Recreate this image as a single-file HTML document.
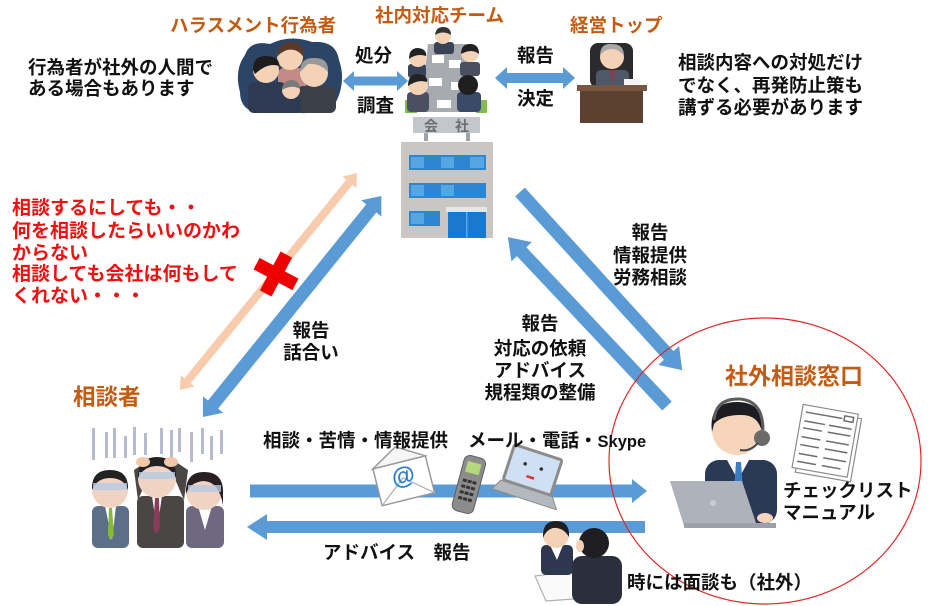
<!DOCTYPE html>
<html><head><meta charset="utf-8"><style>
html,body{margin:0;padding:0;background:#fff;}
svg{display:block;}
text{font-family:"Liberation Sans","Noto Sans CJK JP",sans-serif;font-weight:700;}
.t{font-size:18.5px;fill:#111;}
.o{fill:#c55a11;}
.r{font-size:19px;fill:#ee1111;}
</style></head><body>
<svg width="930" height="606" viewBox="0 0 930 606" xmlns="http://www.w3.org/2000/svg">
<rect width="930" height="606" fill="#fff"/>

<!-- ===== arrows ===== -->
<g transform="translate(180,390) rotate(-50.8)">
<polygon fill="#f8cbad" points="0,0 12,-9 12,-4 268,-4 268,-9 280,0 268,9 268,4 12,4 12,9"/>
</g>
<g transform="translate(203,417) rotate(-51.1)">
<polygon fill="#5b9bd5" points="0,0 16,-13 16,-6.5 268,-6.5 268,-13 284,0 268,13 268,6.5 16,6.5 16,13"/>
</g>
<g transform="translate(520,192) rotate(47.7)">
<polygon fill="#5b9bd5" points="0,-6.5 221,-6.5 221,-14 241,0 221,14 221,6.5 0,6.5"/>
</g>
<g transform="translate(667,406) rotate(-133.3)">
<polygon fill="#5b9bd5" points="0,-6.5 212,-6.5 212,-14 232,0 212,14 212,6.5 0,6.5"/>
</g>
<g transform="translate(343,81)">
<polygon fill="#5b9bd5" points="0,0 11,-10 11,-4.5 54,-4.5 54,-10 65,0 54,10 54,4.5 11,4.5 11,10"/>
</g>
<g transform="translate(495,78)">
<polygon fill="#5b9bd5" points="0,0 12,-11 12,-5 68,-5 68,-11 80,0 68,11 68,5 12,5 12,11"/>
</g>
<g transform="translate(250,491)">
<polygon fill="#5b9bd5" points="0,-6.5 382,-6.5 382,-12 397,0 382,12 382,6.5 0,6.5"/>
</g>
<g transform="translate(645,527) rotate(180)">
<polygon fill="#5b9bd5" points="0,-6 378,-6 378,-13 398,0 378,13 378,6 0,6"/>
</g>

<!-- red X -->
<g transform="translate(276,274)">
<rect x="-22" y="-6.5" width="44" height="13" fill="#ee0000" transform="rotate(28)"/>
<rect x="-22" y="-6.5" width="44" height="13" fill="#ee0000" transform="rotate(118)"/>
</g>

<!-- ===== harassers illustration ===== -->
<path d="M245,55 Q250,40 270,44 Q290,34 312,42 Q336,40 339,60 Q346,80 337,100 Q331,114 300,113 L262,113 Q240,112 240,92 Q234,70 245,55Z" fill="#2c4466"/>
<rect x="278" y="68" width="28" height="36" rx="6" fill="#c48a88"/>
<circle cx="290" cy="57" r="13" fill="#f3d2b6"/>
<path d="M277,57 Q278,42 291,42 Q305,43 304,58 Q298,48 287,50 Q281,52 277,57Z" fill="#5b3a29"/>
<rect x="248" y="82" width="38" height="31" rx="6" fill="#2d3a52"/>
<circle cx="266" cy="70" r="13" fill="#f3d2b6"/>
<path d="M253,70 Q253,55 267,56 Q280,57 279,66 Q268,62 255,74Z" fill="#1d1d1d"/>
<rect x="297" y="86" width="39" height="27" rx="6" fill="#3b3f48"/>
<circle cx="314" cy="73" r="14" fill="#f3d2b6"/>
<path d="M300,72 Q300,57 315,58 Q329,58 328,72 Q320,63 308,64Z" fill="#9a9a9a"/>
<rect x="282" y="97" width="19" height="16" rx="4" fill="#2d3a52"/>
<circle cx="291" cy="90" r="9" fill="#f3d2b6"/>
<path d="M282,90 Q283,80 292,80 Q300,81 300,89 Q292,84 282,90Z" fill="#7a7a7a"/>

<!-- ===== team illustration ===== -->
<polygon points="428,44 466,44 472,112 420,112" fill="#a7abb1"/>
<rect x="432" y="55" width="12" height="8" fill="#fff"/>
<rect x="449" y="60" width="12" height="8" fill="#fff"/>
<rect x="429" y="78" width="13" height="8" fill="#fff"/>
<rect x="451" y="82" width="13" height="8" fill="#fff"/>
<rect x="437" y="100" width="14" height="8" fill="#fff"/>
<rect x="405" y="100" width="12" height="13" fill="#82bb4f"/>
<rect x="476" y="100" width="11" height="13" fill="#82bb4f"/>
<rect x="434" y="42" width="20" height="12" rx="3" fill="#3a4256"/>
<circle cx="443" cy="36" r="8" fill="#f3d2b6"/>
<path d="M435,35 Q436,27 443,27 Q451,27 451,35 Q443,30 435,35Z" fill="#333"/>
<rect x="408" y="64" width="18" height="14" rx="3" fill="#3a4256"/>
<circle cx="418" cy="58" r="9" fill="#f3d2b6"/>
<path d="M409,59 Q409,48 418,48 Q427,49 426,56 Q417,53 409,59Z" fill="#222"/>
<rect x="460" y="62" width="20" height="14" rx="3" fill="#4a5060"/>
<circle cx="470" cy="53" r="9" fill="#f3d2b6"/>
<path d="M461,54 Q461,44 470,44 Q479,44 479,54 Q472,48 461,54Z" fill="#222"/>
<rect x="407" y="92" width="22" height="20" rx="4" fill="#4a5060"/>
<circle cx="418" cy="85" r="10" fill="#f3d2b6"/>
<path d="M408,86 Q408,74 418,74 Q428,75 427,82 Q418,79 408,86Z" fill="#222"/>
<rect x="457" y="92" width="24" height="20" rx="4" fill="#3a4a68"/>
<circle cx="468" cy="85" r="10" fill="#1f1f1f"/>

<!-- sign -->
<rect x="424" y="132" width="4" height="9" fill="#9ea3aa"/>
<rect x="466" y="132" width="4" height="9" fill="#9ea3aa"/>
<rect x="413" y="117" width="67" height="16" fill="#c3c6cb"/>
<text x="424" y="131" font-size="14" fill="#6a6d72">会</text>
<text x="455" y="131" font-size="14" fill="#6a6d72">社</text>

<!-- building -->
<rect x="401" y="142" width="92" height="96" fill="#c9c6c3"/>
<rect x="409" y="155" width="77" height="15" fill="#2c86d2"/>
<rect x="409" y="183" width="77" height="15" fill="#2c86d2"/>
<g fill="#55a6e2">
<rect x="411" y="157" width="13" height="11"/><rect x="441" y="157" width="13" height="11"/><rect x="470" y="157" width="14" height="11"/>
<rect x="411" y="185" width="13" height="11"/><rect x="441" y="185" width="13" height="11"/>
</g>
<rect x="409" y="211" width="31" height="15" fill="#2c86d2"/>
<rect x="411" y="213" width="13" height="11" fill="#55a6e2"/>
<rect x="446" y="207" width="41" height="5" fill="#e6e6e6"/>
<rect x="448" y="212" width="38" height="26" fill="#1b78cf"/>
<rect x="466" y="212" width="1.5" height="26" fill="#5aa8e6"/>

<!-- ===== executive ===== -->
<rect x="590" y="43" width="43" height="45" rx="8" fill="#2b2b2e"/>
<rect x="596" y="70" width="33" height="18" rx="5" fill="#4f5866"/>
<polygon points="609,70 615,70 613,84" fill="#8a3a4a"/>
<circle cx="612" cy="57" r="12" fill="#f3d2b6"/>
<path d="M600,56 Q600,43 612,44 Q624,44 624,56 Q619,49 612,49 Q604,49 600,56Z" fill="#a8a8a8"/>
<rect x="624" y="79" width="16" height="7" fill="#f4f4f4"/>
<rect x="577" y="85" width="70" height="6" fill="#7a5640"/>
<rect x="580" y="91" width="63" height="32" fill="#5c4030"/>

<!-- ===== consulter group ===== -->
<g fill="#b8bad0">
<rect x="92" y="428" width="3" height="32"/><rect x="105" y="432" width="3" height="26"/><rect x="113" y="428" width="3" height="30"/>
<rect x="124" y="436" width="3" height="22"/><rect x="133" y="427" width="3" height="28"/><rect x="144" y="433" width="3" height="22"/>
<rect x="160" y="428" width="3" height="26"/><rect x="170" y="430" width="3" height="30"/><rect x="178" y="428" width="3" height="24"/>
<rect x="190" y="432" width="3" height="30"/><rect x="201" y="428" width="3" height="26"/><rect x="210" y="436" width="3" height="24"/><rect x="220" y="430" width="3" height="24"/>
</g>
<rect x="92" y="506" width="37" height="42" rx="6" fill="#5c6f88"/>
<polygon points="105,506 116,506 112,540" fill="#fff"/>
<polygon points="109,508 112,508 114,535 110,540 108,535" fill="#86b83a"/>
<circle cx="110" cy="490" r="18" fill="#f1d3c4"/>
<path d="M92,490 Q91,470 110,470 Q129,470 128,490 Q124,478 110,478 Q97,478 92,490Z" fill="#222"/>
<rect x="93" y="483" width="34" height="7" fill="#b6cbe3" opacity="0.8"/>
<rect x="186" y="506" width="38" height="42" rx="6" fill="#6e6880"/>
<polygon points="198,506 212,506 205,530" fill="#fff"/>
<circle cx="204" cy="492" r="18" fill="#f1d3c4"/>
<path d="M186,494 Q185,472 204,472 Q224,472 223,494 L223,505 Q219,482 204,481 Q190,482 186,494Z" fill="#2a1f22"/>
<rect x="188" y="485" width="33" height="7" fill="#b6cbe3" opacity="0.8"/>
<rect x="137" y="496" width="47" height="52" rx="6" fill="#4a4645"/>
<polygon points="152,496 162,496 157,530" fill="#fff"/>
<polygon points="155,498 159,498 160,528 156,534 153,528" fill="#8a3b5a"/>
<path d="M138,500 L134,470 L146,462 L150,472 Z" fill="#4a4645"/>
<path d="M184,500 L188,470 L176,462 L172,472 Z" fill="#4a4645"/>
<circle cx="157" cy="479" r="19" fill="#f1d3c4"/>
<path d="M138,478 Q138,457 157,457 Q177,457 176,478 Q170,466 157,466 Q144,466 138,478Z" fill="#222"/>
<rect x="139" y="472" width="36" height="7" fill="#b6cbe3" opacity="0.8"/>
<ellipse cx="143" cy="462" rx="7" ry="5" fill="#f1c8a8"/>
<ellipse cx="171" cy="462" rx="7" ry="5" fill="#f1c8a8"/>

<!-- ===== envelope / phone / laptop ===== -->
<g transform="rotate(-14,403,482)">
<rect x="377" y="462" width="54" height="38" fill="#fff" stroke="#9a9a9a" stroke-width="1.5"/>
<polyline points="377,500 404,478 431,500" fill="none" stroke="#b0b0b0" stroke-width="1.2"/>
<polygon points="377,462 404,446 431,462" fill="#f6f6f6" stroke="#9a9a9a" stroke-width="1.5"/>
<text x="393" y="484" font-size="24" fill="#2a7fd4">@</text>
</g>
<g transform="rotate(15,469,484)">
<rect x="458" y="456" width="22" height="57" rx="6" fill="#8c8c8c" stroke="#5e5e5e" stroke-width="1"/>
<rect x="462" y="462" width="14" height="11" fill="#b5d97a"/>
<g fill="#333"><rect x="462" y="480" width="4" height="3"/><rect x="467" y="480" width="4" height="3"/><rect x="472" y="480" width="4" height="3"/>
<rect x="462" y="486" width="4" height="3"/><rect x="467" y="486" width="4" height="3"/><rect x="472" y="486" width="4" height="3"/>
<rect x="462" y="492" width="4" height="3"/><rect x="467" y="492" width="4" height="3"/><rect x="472" y="492" width="4" height="3"/>
<rect x="462" y="498" width="4" height="3"/><rect x="467" y="498" width="4" height="3"/><rect x="472" y="498" width="4" height="3"/></g>
</g>
<g transform="rotate(18,530,478)">
<rect x="505" y="451" width="50" height="37" rx="2" fill="#cfe0f4" stroke="#8c8c8c" stroke-width="3"/>
<polygon points="503,489 557,489 565,500 497,500" fill="#b4b8bf" stroke="#8c8c8c" stroke-width="1"/>
<circle cx="521" cy="466" r="1.8" fill="#333"/><circle cx="538" cy="466" r="1.8" fill="#333"/>
<rect x="526" y="476" width="8" height="2.5" fill="#d33"/>
</g>

<!-- ===== interview ===== -->
<polygon points="535,576 600,568 617,596 546,601" fill="#fafafa" stroke="#b0b0b0" stroke-width="1.2"/>
<rect x="541" y="545" width="32" height="30" rx="5" fill="#2d3850"/>
<polygon points="550,545 563,545 557,560" fill="#fff"/>
<circle cx="556" cy="535" r="13" fill="#f3d2b6"/>
<path d="M543,538 Q542,521 556,521 Q570,521 569,537 Q563,527 553,528 Q546,530 543,538Z" fill="#1f1f22"/>
<rect x="572" y="556" width="50" height="48" rx="10" fill="#2b2f3d"/>
<circle cx="594" cy="543" r="15" fill="#1e1e22"/>
<ellipse cx="580" cy="546" rx="4" ry="6" fill="#f3d2b6"/>

<!-- ===== operator ===== -->
<rect x="705" y="460" width="72" height="64" rx="14" fill="#2a3a55"/>
<polygon points="727,460 749,460 738,480" fill="#fff"/>
<polygon points="736,462 741,462 743,490 738,497 734,490" fill="#3b7dc4"/>
<circle cx="737" cy="430" r="25" fill="#f6d5bc"/>
<path d="M712,432 Q708,402 737,402 Q765,402 762,432 Q758,414 740,415 Q722,415 714,424Z" fill="#1c1c22"/>
<path d="M714,420 Q716,398 740,399 Q763,401 763,430" fill="none" stroke="#5d5d5d" stroke-width="3"/>
<circle cx="762" cy="438" r="8" fill="#6b6b6b"/>
<path d="M758,443 Q750,452 740,450" fill="none" stroke="#444" stroke-width="2"/>
<polygon points="670,481 742,481 757,526 684,526" fill="#aeb2ba"/>
<rect x="684" y="523" width="92" height="5" fill="#9ca0a8"/>
<circle cx="713" cy="503" r="3" fill="#c9ccd2"/>
<ellipse cx="765" cy="518" rx="8" ry="5" fill="#f6d5bc"/>

<!-- checklist -->
<g transform="rotate(10,826,442)">
<rect x="801" y="413" width="56" height="64" fill="#fff" stroke="#8c8c8c" stroke-width="1.2"/>
<rect x="797" y="409" width="56" height="64" fill="#fff" stroke="#8c8c8c" stroke-width="1.2"/>
<g stroke="#6e6e6e" stroke-width="1.5">
<line x1="801" y1="416" x2="838" y2="416"/><rect x="840" y="413" width="9" height="5" fill="none"/>
<line x1="801" y1="425" x2="822" y2="425"/><line x1="826" y1="425" x2="849" y2="425"/>
<line x1="801" y1="432" x2="820" y2="432"/><line x1="826" y1="432" x2="849" y2="432"/>
<line x1="801" y1="441" x2="820" y2="441"/><line x1="826" y1="441" x2="849" y2="441"/>
<line x1="801" y1="449" x2="820" y2="449"/><line x1="826" y1="449" x2="849" y2="449"/>
<line x1="801" y1="458" x2="820" y2="458"/><line x1="826" y1="458" x2="849" y2="458"/>
<line x1="801" y1="466" x2="820" y2="466"/><line x1="826" y1="466" x2="845" y2="466"/>
</g>
</g>

<!-- red ellipse -->
<ellipse cx="765" cy="461" rx="156" ry="143" fill="none" stroke="#e02828" stroke-width="1.2"/>

<!-- ===== text ===== -->
<text class="t o" x="170" y="32">ハラスメント行為者</text>
<text class="t o" x="375" y="22">社内対応チーム</text>
<text class="t o" x="570" y="32">経営トップ</text>

<text class="t" x="28" y="74">行為者が社外の人間で</text>
<text class="t" x="28" y="95">ある場合もあります</text>

<text class="t" x="355" y="62">処分</text>
<text class="t" x="357" y="112">調査</text>
<text class="t" x="517" y="62">報告</text>
<text class="t" x="517" y="105">決定</text>

<text class="t" x="678" y="69">相談内容への対処だけ</text>
<text class="t" x="678" y="92">でなく、再発防止策も</text>
<text class="t" x="678" y="114">講ずる必要があります</text>

<text class="r" x="12" y="214">相談するにしても・・</text>
<text class="r" x="12" y="237">何を相談したらいいのかわ</text>
<text class="r" x="12" y="259">からない</text>
<text class="r" x="12" y="280">相談しても会社は何もして</text>
<text class="r" x="12" y="302">くれない・・・</text>

<text class="t" x="311" y="337" text-anchor="middle">報告</text>
<text class="t" x="311" y="359" text-anchor="middle">話合い</text>

<text class="o" x="73" y="405" font-size="22.5">相談者</text>

<text class="t" x="650" y="239" text-anchor="middle">報告</text>
<text class="t" x="650" y="262" text-anchor="middle">情報提供</text>
<text class="t" x="650" y="284" text-anchor="middle">労務相談</text>

<text class="t" x="540" y="330" text-anchor="middle">報告</text>
<text class="t" x="540" y="355" text-anchor="middle">対応の依頼</text>
<text class="t" x="540" y="377" text-anchor="middle">アドバイス</text>
<text class="t" x="540" y="399" text-anchor="middle">規程類の整備</text>

<text class="o" x="725" y="384" font-size="23">社外相談窓口</text>
<text class="t" x="783" y="497">チェックリスト</text>
<text class="t" x="783" y="519">マニュアル</text>
<text class="t" x="627" y="589">時には面談も（社外）</text>

<text class="t" x="263" y="447">相談・苦情・情報提供</text>
<text class="t" x="468" y="447">メール・電話・<tspan font-size="16.5">Skype</tspan></text>
<text class="t" x="323" y="559">アドバイス　報告</text>
</svg>
</body></html>
